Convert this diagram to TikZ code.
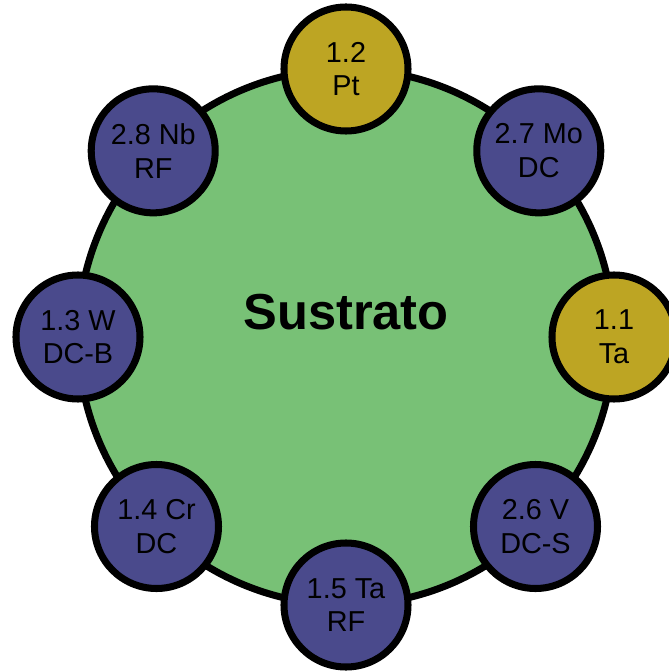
\documentclass[tikz,border=0pt]{standalone}
\usepackage{fontspec}
\setmainfont{Liberation Sans}
\definecolor{subgreen}{RGB}{120,193,118}
\definecolor{targetgold}{RGB}{189,165,35}
\definecolor{targetblue}{RGB}{74,74,140}

\begin{document}
\begin{tikzpicture}[
  target/.style={draw, circle, line width=5pt, minimum size=3.1cm, inner sep=0pt, align=center, font=\fontsize{20.5}{24}\selectfont}
]
\useasboundingbox (-8.65,8.425) rectangle (8.05,-8.375);

% Substrate
\node[draw, circle, fill=subgreen, line width=5pt, minimum size=13.4cm, outer sep=0pt] (sub) {};
\node[font=\fontsize{36}{40}\selectfont\bfseries] (subtext) at ([yshift=0.62cm]sub.center) {Sustrato};

% Targets around the substrate
\node[target, fill=targetgold] (pt) at (sub.90) {1.2\\Pt};
\node[target, fill=targetblue] (mo) at (sub.44) {2.7 Mo\\DC};
\node[target, fill=targetgold] (ta) at (sub.0) {1.1\\Ta};
\node[target, fill=targetblue] (v) at (sub.-45) {2.6 V\\DC-S};
\node[target, fill=targetblue] (tarf) at (sub.-90) {1.5 Ta\\RF};
\node[target, fill=targetblue] (cr) at (sub.-135) {1.4 Cr\\DC};
\node[target, fill=targetblue] (w) at (sub.180) {1.3 W\\DC-B};
\node[target, fill=targetblue] (nb) at (sub.136) {2.8 Nb\\RF};
\end{tikzpicture}
\end{document}
